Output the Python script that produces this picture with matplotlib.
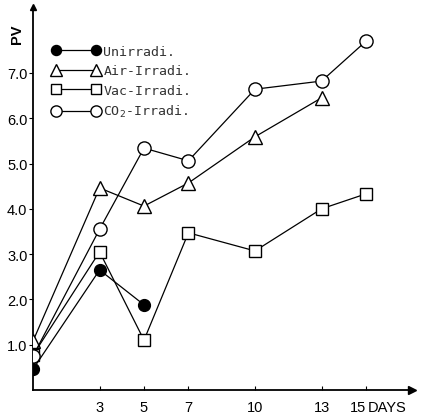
import numpy as np
import matplotlib
matplotlib.use('Agg')
import matplotlib.pyplot as plt

# valores (PV x dias)

days_uni = [0, 3, 5]
pv_uni = [0.46, 2.65, 1.88]

days_air = [0, 3, 5, 7, 10, 13]
pv_air = [1.08, 4.46, 4.06, 4.57, 5.59, 6.45]

days_vac = [0, 3, 5, 7, 10, 13, 15]
pv_vac = [0.77, 3.05, 1.10, 3.47, 3.07, 4.00, 4.33]

days_co2 = [0, 3, 5, 7, 10, 13, 15]
pv_co2 = [0.75, 3.55, 5.34, 5.06, 6.64, 6.82, 7.70]

xticks = [3, 5, 7, 10, 13, 15]
yticks = [1, 2, 3, 4, 5, 6, 7]
ytick_labels = ['1.0', '2.0', '3.0', '4.0', '5.0', '6.0', '7.0']
labels = ['Unirradi.', 'Air-Irradi.', 'Vac-Irradi.', 'CO$_2$-Irradi.']

plt.rcParams['font.family'] = ['Liberation Sans', 'DejaVu Sans']

fig = plt.figure(figsize=(4.25, 4.14), dpi=100)
ax = fig.add_axes([33 / 425, 23 / 414, 379 / 425, 383 / 414])

lw = 0.9
ax.plot(days_uni, pv_uni, '-o', color='black', lw=lw, ms=8.5, mfc='black', mec='black', label=labels[0], zorder=4)
ax.plot(days_air, pv_air, '-^', color='black', lw=lw, ms=9.5, mfc='white', mec='black', mew=1.0, label=labels[1], zorder=3)
ax.plot(days_vac, pv_vac, '-s', color='black', lw=lw, ms=8.5, mfc='white', mec='black', mew=1.0, label=labels[2], zorder=3)
ax.plot(days_co2, pv_co2, '-o', color='black', lw=lw, ms=9.5, mfc='white', mec='black', mew=1.0, label=labels[3], zorder=3)

ax.set_xlim(0, 379 / 22.2)
ax.set_ylim(0, 383 / 45.3)

# eixos so na esquerda e embaixo, com setas
for s in ['top', 'right']:
    ax.spines[s].set_visible(False)
for s in ['left', 'bottom']:
    ax.spines[s].set_linewidth(1.3)
ax.plot(1, 0, '>', color='black', ms=6, transform=ax.transAxes, clip_on=False)
ax.plot(0, 1, '^', color='black', ms=4, transform=ax.transAxes, clip_on=False)

ax.set_xticks(xticks)
ax.set_xticklabels([str(t) for t in xticks], fontsize=10.5)
ax.tick_params(axis='x', direction='in', length=3, pad=7)
ax.get_xticklabels()[-1].set_ha('right')
ax.set_yticks(yticks)
ax.set_yticklabels(ytick_labels, fontsize=10.5)
ax.tick_params(axis='y', direction='out', length=3, pad=1)

ax.annotate('DAYS', xy=(15, 0), xycoords=('data', 'axes fraction'), xytext=(1, -7),
            textcoords='offset points', ha='left', va='top', fontsize=10.5)
fig.text(17 / 425, 1 - 34 / 414, 'PV', rotation=90, ha='center', va='center',
         fontsize=10.5, fontweight='bold')

leg = ax.legend(numpoints=2, loc='upper left', bbox_to_anchor=(0.049, 0.902), frameon=False,
                borderpad=0, borderaxespad=0, handlelength=3.63, handletextpad=0.3,
                labelspacing=0.5, markerscale=0.85,
                prop={'family': 'DejaVu Sans Mono', 'size': 9.5})
for t in leg.get_texts():
    t.set_color('#333333')

fig.savefig('out.png', dpi=100)
